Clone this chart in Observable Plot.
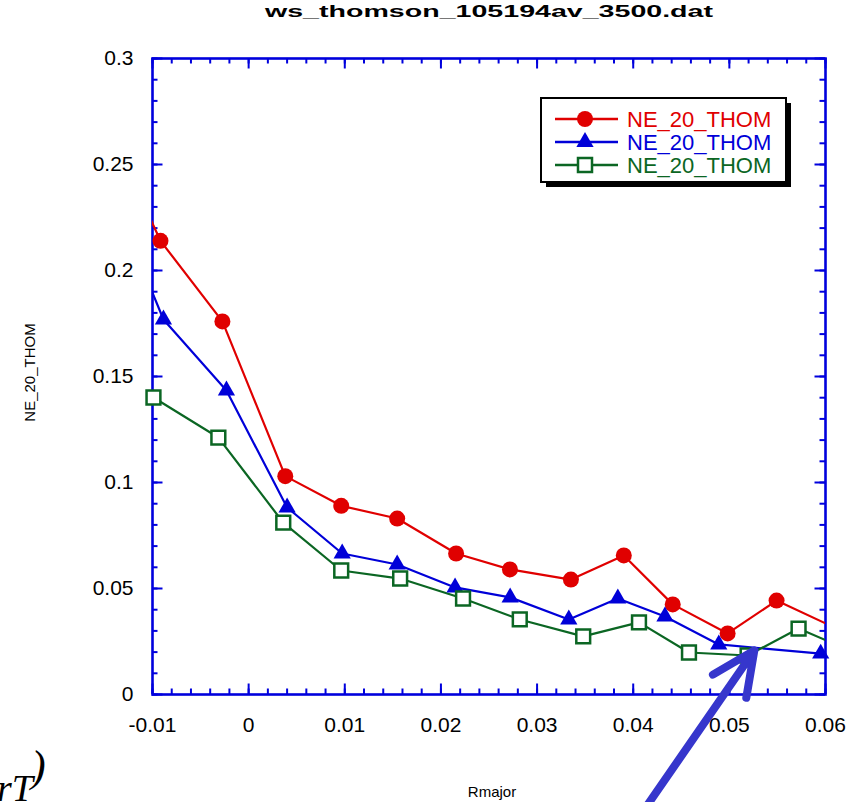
<!DOCTYPE html>
<html><head><meta charset="utf-8">
<script src="https://cdn.jsdelivr.net/npm/d3@7"></script>
<script src="https://cdn.jsdelivr.net/npm/@observablehq/plot@0.6"></script>
<style>
html,body{margin:0;padding:0;background:#fff;}
#wrap{position:relative;width:863px;height:802px;overflow:hidden;font-family:"Liberation Sans",Arial,sans-serif;}
#wrap svg{position:absolute;left:0;top:0;}
</style></head><body><div id="wrap"></div>
<script>
const title = "ws_thomson_105194av_3500.dat";
const xLabel = "Rmajor";
const yLabel = "NE_20_THOM";
const cornerText = "rT";
const cornerParen = ")";
const seriesNames = ["NE_20_THOM", "NE_20_THOM", "NE_20_THOM"];
const seriesColors = ["#e00000", "#0000d8", "#0b6623"];
const seriesSymbols = ["circle", "triangle", "square"];

// red circles (first and last points lie outside the visible x range)
const redX = [-0.0115, -0.00917, -0.00273, 0.00381, 0.00963, 0.01545, 0.02158, 0.02718, 0.03352, 0.03902, 0.04411, 0.04982, 0.05491, 0.0615];
const redY = [0.237, 0.214, 0.176, 0.103, 0.089, 0.083, 0.0665, 0.059, 0.0542, 0.0656, 0.0425, 0.0288, 0.0443, 0.0304];
// blue triangles
const blueX = [-0.0115, -0.00886, -0.00231, 0.0040, 0.00973, 0.01545, 0.02147, 0.0272, 0.0333, 0.0384, 0.0433, 0.0489, 0.0595];
const blueY = [0.206, 0.1769, 0.1434, 0.0882, 0.0665, 0.0613, 0.0505, 0.0458, 0.0354, 0.0453, 0.0368, 0.0236, 0.0193];
// green squares
const greenX = [-0.0099, -0.00315, 0.0036, 0.00963, 0.01576, 0.0223, 0.0282, 0.0348, 0.0406, 0.0458, 0.0519, 0.0572, 0.0625];
const greenY = [0.1401, 0.1212, 0.0811, 0.0585, 0.0547, 0.0453, 0.0354, 0.0274, 0.0340, 0.0198, 0.0184, 0.0311, 0.0208];

const xTickValues = [-0.01, 0, 0.01, 0.02, 0.03, 0.04, 0.05, 0.06];
const xTickLabels = ["-0.01", "0", "0.01", "0.02", "0.03", "0.04", "0.05", "0.06"];
const yTickValues = [0, 0.05, 0.1, 0.15, 0.2, 0.25, 0.3];
const yTickLabels = ["0", "0.05", "0.1", "0.15", "0.2", "0.25", "0.3"];

// annotation arrow (data coordinates)
const arrowTail = [0.0415, -0.052];
const arrowTip = [0.0526, 0.0208];

const W = 863, H = 802, mL = 152, mR = 38, mT = 58, mB = 108;
const fw = W - mL - mR, fh = H - mT - mB;
const axisBlue = "#0000dd";
const xDomain = [-0.01, 0.06], yDomain = [0, 0.3];

const seriesX = [redX, blueX, greenX];
const seriesY = [redY, blueY, greenY];
const series = seriesX.map((xs, k) => xs.map((x, i) => ({x, y: seriesY[k][i]})));
const inside = d => d.x >= xDomain[0] - 1e-9 && d.x <= xDomain[1] + 1e-9;

const xMinor = d3.ticks(-0.01, 0.06, 35);
const yMinor = d3.ticks(0, 0.3, 30);

const marks = [];
marks.push(
  Plot.ruleX(xMinor, {x: d => d, insetTop: fh - 5.5, stroke: axisBlue, strokeWidth: 2}),
  Plot.ruleX(xMinor, {x: d => d, insetBottom: fh - 5.5, stroke: axisBlue, strokeWidth: 2}),
  Plot.ruleX(xTickValues, {x: d => d, insetTop: fh - 10.5, stroke: axisBlue, strokeWidth: 2}),
  Plot.ruleX(xTickValues, {x: d => d, insetBottom: fh - 10.5, stroke: axisBlue, strokeWidth: 2}),
  Plot.ruleY(yMinor, {y: d => d, insetRight: fw - 5.5, stroke: axisBlue, strokeWidth: 2}),
  Plot.ruleY(yMinor, {y: d => d, insetLeft: fw - 5.5, stroke: axisBlue, strokeWidth: 2}),
  Plot.ruleY(yTickValues, {y: d => d, insetRight: fw - 10.5, stroke: axisBlue, strokeWidth: 2}),
  Plot.ruleY(yTickValues, {y: d => d, insetLeft: fw - 10.5, stroke: axisBlue, strokeWidth: 2}),
  Plot.frame({stroke: axisBlue, strokeWidth: 2.6})
);
series.forEach((s, k) => {
  marks.push(Plot.line(s, {x: "x", y: "y", stroke: seriesColors[k], strokeWidth: 2.2, clip: true}));
});
series.forEach((s, k) => {
  const sym = seriesSymbols[k];
  const opts = {x: "x", y: "y", symbol: sym, filter: inside};
  if (sym === "circle") Object.assign(opts, {r: 8, fill: seriesColors[k], stroke: "none"});
  else if (sym === "triangle") Object.assign(opts, {r: 6.4, fill: seriesColors[k], stroke: "none"});
  else Object.assign(opts, {r: 7.8, fill: "white", stroke: seriesColors[k], strokeWidth: 2.5});
  marks.push(Plot.dot(s, opts));
});
marks.push(
  Plot.axisX(xTickValues, {tickSize: 0, tickPadding: 23, fontSize: 21, fill: "black",
    tickFormat: d => xTickLabels[xTickValues.indexOf(d)]}),
  Plot.axisY(yTickValues, {tickSize: 0, tickPadding: 19, fontSize: 21, fill: "black",
    tickFormat: d => yTickLabels[yTickValues.indexOf(d)]}),
  Plot.arrow([{x1: arrowTail[0], y1: arrowTail[1], x2: arrowTip[0], y2: arrowTip[1]}],
    {x1: "x1", y1: "y1", x2: "x2", y2: "y2", stroke: "#3636cc", strokeWidth: 8,
     headLength: 9, headAngle: 50, clip: false})
);

const plot = Plot.plot({
  width: W, height: H,
  marginLeft: mL, marginRight: mR, marginTop: mT, marginBottom: mB,
  x: {domain: xDomain, label: null},
  y: {domain: yDomain, label: null},
  style: {fontFamily: '"Liberation Sans", Arial, sans-serif', background: "white", color: "black", overflow: "visible"},
  marks
});
document.getElementById("wrap").appendChild(plot);

const svg = d3.select(plot);
svg.append("text").attr("x", 489).attr("y", 16.5).attr("text-anchor", "middle")
  .attr("font-size", 17).attr("font-weight", "bold").attr("fill", "black")
  .attr("font-family", '"Liberation Sans", Arial, sans-serif')
  .attr("textLength", 448).attr("lengthAdjust", "spacingAndGlyphs").text(title);
svg.append("text").attr("x", 492).attr("y", 797).attr("text-anchor", "middle")
  .attr("font-size", 15).attr("fill", "black").text(xLabel);
svg.append("text").attr("transform", "translate(35,372.5) rotate(-90)").attr("text-anchor", "middle")
  .attr("font-size", 15).attr("fill", "black").text(yLabel);
svg.append("text").attr("x", -3).attr("y", 801).attr("text-anchor", "start").attr("font-size", 38).attr("font-style", "italic")
  .attr("font-family", '"Liberation Serif", "DejaVu Serif", serif').attr("fill", "black").text(cornerText);
svg.append("text").attr("x", 31).attr("y", 781).attr("text-anchor", "start").attr("font-size", 44).attr("font-style", "italic")
  .attr("font-family", '"Liberation Serif", "DejaVu Serif", serif').attr("fill", "black").text(cornerParen);

// legend box with shadow
const lg = svg.append("g").attr("text-anchor", "start");
const bx = 541, by = 98, bw = 245, bh = 84;
lg.append("rect").attr("x", bx + 5).attr("y", by + 5).attr("width", bw).attr("height", bh).attr("fill", "black");
lg.append("rect").attr("x", bx).attr("y", by).attr("width", bw).attr("height", bh)
  .attr("fill", "white").attr("stroke", "black").attr("stroke-width", 2);
seriesNames.forEach((name, k) => {
  const cy = 119 + k * 23;
  lg.append("line").attr("x1", 555).attr("x2", 618).attr("y1", cy).attr("y2", cy)
    .attr("stroke", seriesColors[k]).attr("stroke-width", 2.5);
  const sym = seriesSymbols[k];
  if (sym === "circle") lg.append("circle").attr("cx", 585).attr("cy", cy).attr("r", 8).attr("fill", seriesColors[k]);
  else if (sym === "triangle") lg.append("path").attr("transform", `translate(585,${cy})`)
    .attr("d", d3.symbol(d3.symbolTriangle, Math.PI * 6.4 * 6.4)()).attr("fill", seriesColors[k]);
  else lg.append("rect").attr("x", 585 - 7).attr("y", cy - 7).attr("width", 14).attr("height", 14)
    .attr("fill", "white").attr("stroke", seriesColors[k]).attr("stroke-width", 2.5);
  lg.append("text").attr("x", 627).attr("y", cy).attr("dy", "0.36em").attr("font-size", 22)
    .attr("text-anchor", "start").attr("fill", seriesColors[k]).text(name);
});
</script></body></html>
